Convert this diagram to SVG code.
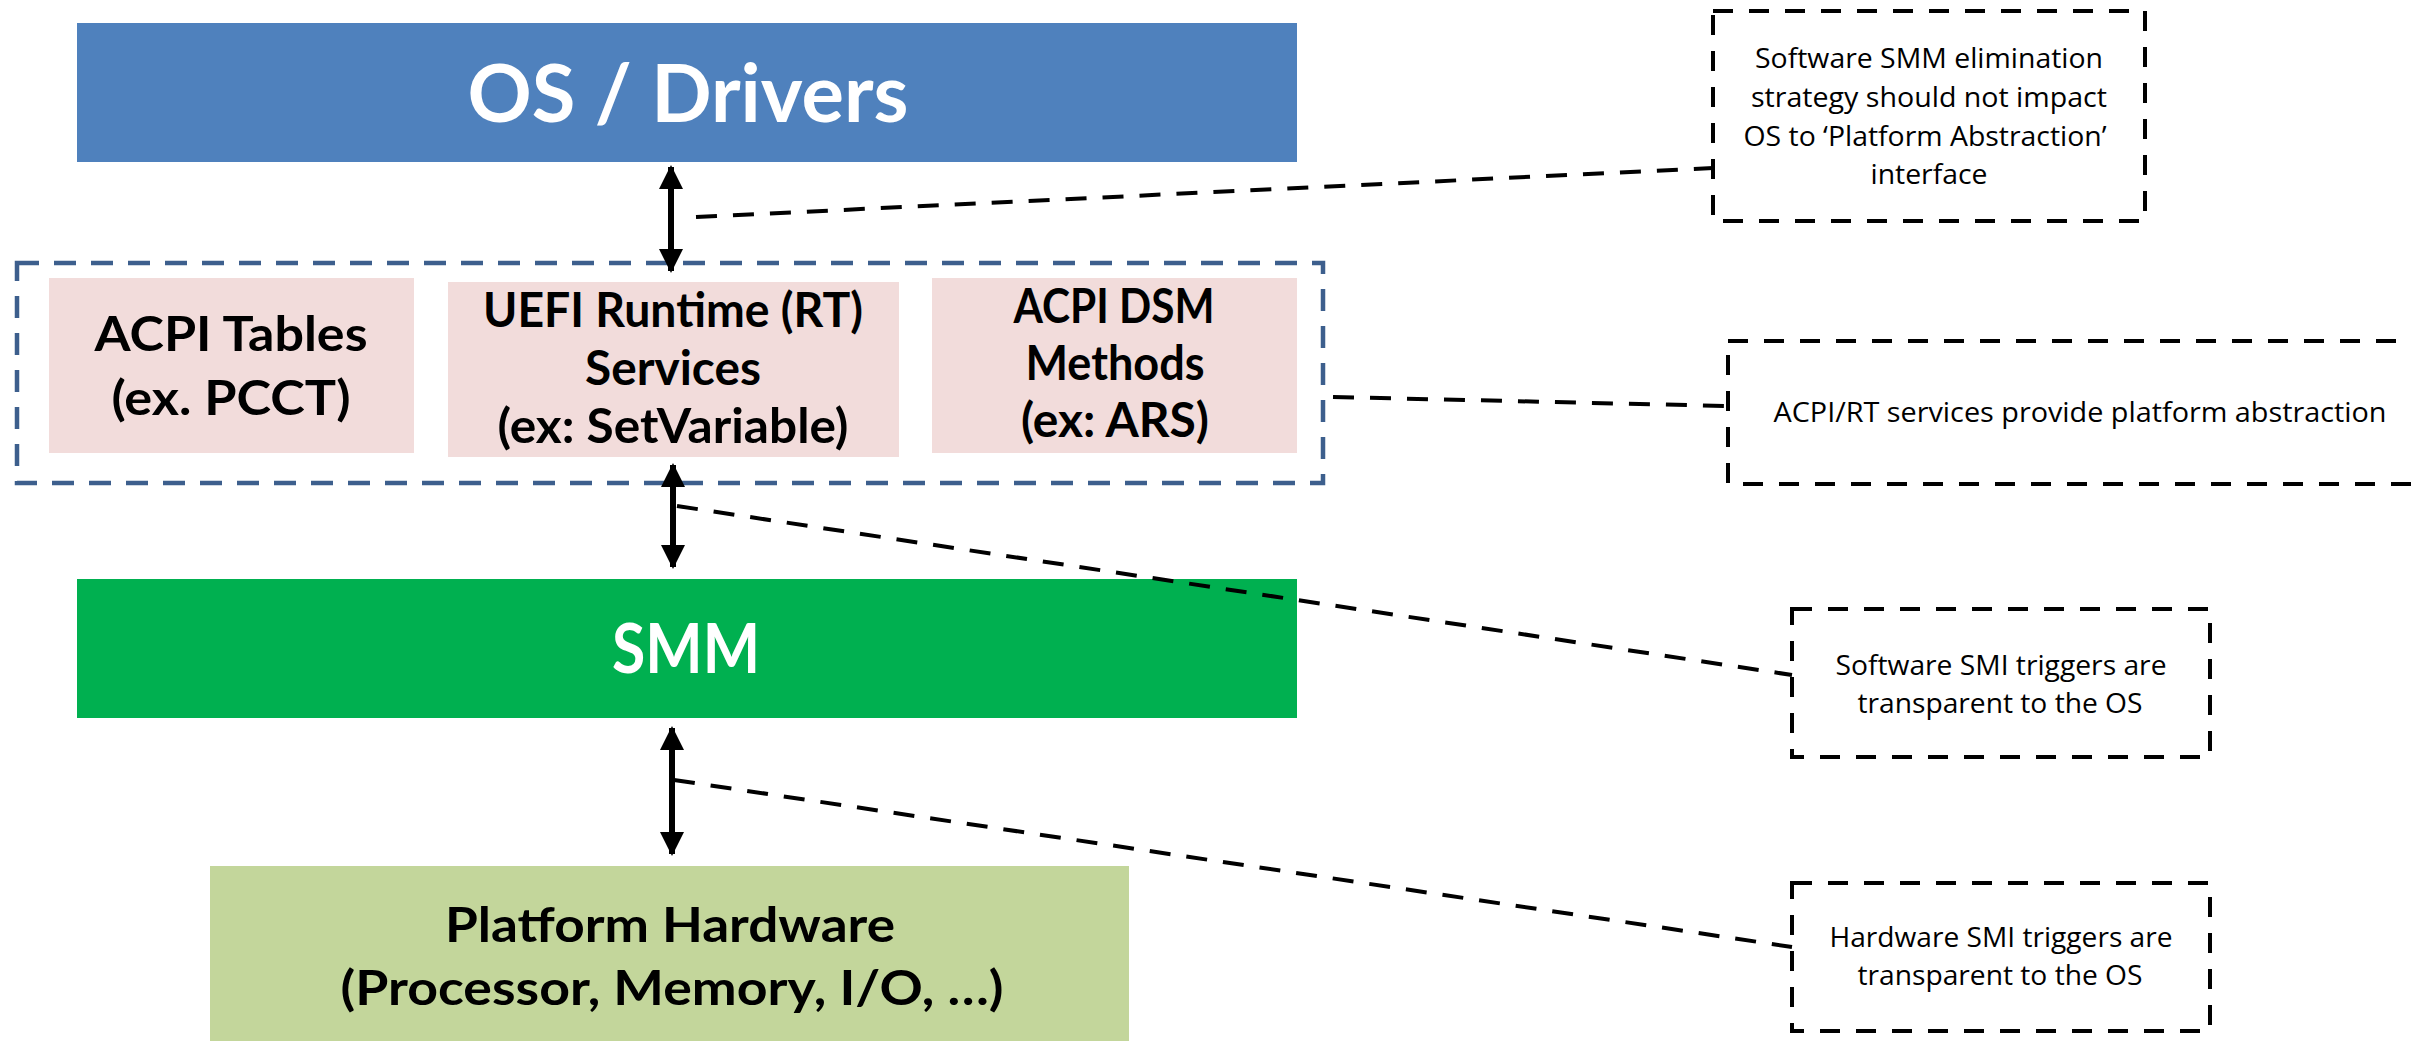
<svg xmlns="http://www.w3.org/2000/svg" width="2412" height="1041" viewBox="0 0 2412 1041">
<defs>
<style>
.bold{font-family:Lato,"Liberation Sans",sans-serif;font-weight:700;text-anchor:middle}
.note{font-family:"Open Sans","Liberation Sans",sans-serif;font-size:28px;fill:#000;text-anchor:middle}
.callout{fill:none;stroke:#000;stroke-width:4;stroke-dasharray:20 16}
.leader{fill:none;stroke:#000;stroke-width:4;stroke-dasharray:21 16}
.arrow{stroke:#000;stroke-width:6;marker-start:url(#ah);marker-end:url(#ah)}
</style>
<marker id="ah" viewBox="0 0 24 24" refX="22" refY="12" markerWidth="24" markerHeight="24" markerUnits="userSpaceOnUse" orient="auto-start-reverse">
<path d="M0,0 L24,12 L0,24 Z" fill="#000"/>
</marker>
</defs>
<rect width="2412" height="1041" fill="#fff"/>

<g id="os-drivers">
<rect x="77" y="23" width="1220" height="139" fill="#4f81bd"/>
<text class="bold" x="688" y="122" font-size="80" fill="#fff" textLength="441" lengthAdjust="spacingAndGlyphs">OS / Drivers</text>
</g>

<g id="firmware-layer">
<rect x="17" y="263" width="1306" height="220" fill="none" stroke="#3d5f8d" stroke-width="4.5" stroke-dasharray="22 15"/>
</g>

<g id="acpi-tables">
<rect x="49" y="278" width="365" height="175" fill="#f2dcdb"/>
<text class="bold" x="231" y="351" font-size="47" fill="#000" textLength="273" lengthAdjust="spacingAndGlyphs">ACPI Tables</text>
<text class="bold" x="231" y="415" font-size="47" fill="#000" textLength="239" lengthAdjust="spacingAndGlyphs">(ex. PCCT)</text>
</g>

<g id="uefi-rt">
<rect x="448" y="282" width="451" height="175" fill="#f2dcdb"/>
<text class="bold" x="673" y="327" font-size="47" fill="#000" textLength="380" lengthAdjust="spacingAndGlyphs">UEFI Runtime (RT)</text>
<text class="bold" x="673" y="385" font-size="47" fill="#000" textLength="176" lengthAdjust="spacingAndGlyphs">Services</text>
<text class="bold" x="673" y="443" font-size="47" fill="#000" textLength="351" lengthAdjust="spacingAndGlyphs">(ex: SetVariable)</text>
</g>

<g id="acpi-dsm">
<rect x="932" y="278" width="365" height="175" fill="#f2dcdb"/>
<text class="bold" x="1114" y="323" font-size="47" fill="#000" textLength="201" lengthAdjust="spacingAndGlyphs">ACPI DSM</text>
<text class="bold" x="1115" y="380" font-size="47" fill="#000" textLength="179" lengthAdjust="spacingAndGlyphs">Methods</text>
<text class="bold" x="1115" y="437" font-size="47" fill="#000" textLength="188" lengthAdjust="spacingAndGlyphs">(ex: ARS)</text>
</g>

<g id="smm">
<rect x="77" y="579" width="1220" height="139" fill="#00b050"/>
<text class="bold" x="686" y="673" font-size="68" fill="#fff" textLength="148" lengthAdjust="spacingAndGlyphs">SMM</text>
</g>

<g id="platform-hardware">
<rect x="210" y="866" width="919" height="190" fill="#c3d69b"/>
<text class="bold" x="670" y="942" font-size="47" fill="#000" textLength="450" lengthAdjust="spacingAndGlyphs">Platform Hardware</text>
<text class="bold" x="672" y="1005" font-size="47" fill="#000" textLength="663" lengthAdjust="spacingAndGlyphs">(Processor, Memory, I/O, …)</text>
</g>

<g id="note-os">
<rect class="callout" x="1713" y="11" width="432" height="210"/>
<text class="note" x="1929" y="68" textLength="348" lengthAdjust="spacingAndGlyphs">Software SMM elimination</text>
<text class="note" x="1929" y="107" textLength="356" lengthAdjust="spacingAndGlyphs">strategy should not impact</text>
<text class="note" x="1925" y="146" textLength="363" lengthAdjust="spacingAndGlyphs">OS to ‘Platform Abstraction’</text>
<text class="note" x="1929" y="184" textLength="117" lengthAdjust="spacingAndGlyphs">interface</text>
</g>

<g id="note-acpi-rt">
<rect class="callout" x="1728" y="341" width="720" height="143"/>
<text class="note" x="2080" y="422" textLength="613" lengthAdjust="spacingAndGlyphs">ACPI/RT services provide platform abstraction</text>
</g>

<g id="note-sw-smi">
<rect class="callout" x="1792" y="609" width="418" height="148"/>
<text class="note" x="2001" y="675" textLength="331" lengthAdjust="spacingAndGlyphs">Software SMI triggers are</text>
<text class="note" x="2000" y="713" textLength="285" lengthAdjust="spacingAndGlyphs">transparent to the OS</text>
</g>

<g id="note-hw-smi">
<rect class="callout" x="1792" y="883" width="418" height="148"/>
<text class="note" x="2001" y="947" textLength="343" lengthAdjust="spacingAndGlyphs">Hardware SMI triggers are</text>
<text class="note" x="2000" y="985" textLength="285" lengthAdjust="spacingAndGlyphs">transparent to the OS</text>
</g>

<g id="connectors">
<line class="arrow" x1="671" y1="167" x2="671" y2="271"/>
<line class="arrow" x1="673" y1="465" x2="673" y2="567"/>
<line class="arrow" x1="672" y1="728" x2="672" y2="854"/>
<line class="leader" x1="696" y1="217" x2="1713" y2="168"/>
<line class="leader" x1="1333" y1="397" x2="1728" y2="406"/>
<line class="leader" x1="677" y1="506" x2="1792" y2="675"/>
<line class="leader" x1="674" y1="780" x2="1792" y2="947"/>
</g>
</svg>
